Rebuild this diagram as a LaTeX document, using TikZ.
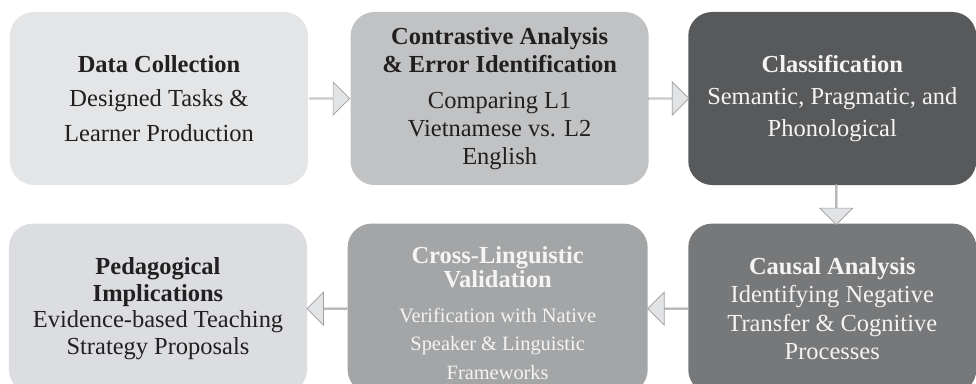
\documentclass[tikz,border=0pt]{standalone}
\usepackage{fontspec}
\setmainfont{Liberation Serif}
\usepackage{tikz}
\usetikzlibrary{shapes.arrows, positioning}

\definecolor{lightgrey}{HTML}{E4E5E7}
\definecolor{midgrey}{HTML}{C1C2C4}
\definecolor{darkgrey}{HTML}{58595B}
\definecolor{slategrey}{HTML}{77787A}
\definecolor{ashgrey}{HTML}{A3A5A7}
\definecolor{palegrey}{HTML}{DCDDE0}
\definecolor{arrowfill}{HTML}{E2E3E5}
\definecolor{arrowline}{HTML}{9C9D9F}
\definecolor{inktext}{HTML}{231F20}
\definecolor{lighttext}{HTML}{F4F4F4}

\begin{document}
\begin{tikzpicture}[x=0.025cm, y=-0.025cm,
        every node/.style={text=inktext},
        stage/.style={rectangle, rounded corners=0.6cm, minimum width=7.45cm, minimum height=4.325cm, align=center, inner sep=0pt, fill=#1},
        flow/.style={single arrow, draw=arrowline, fill=arrowfill, line width=0.5pt, minimum height=1cm, minimum width=0.825cm, single arrow head extend=0.225cm, single arrow head indent=0pt, inner sep=0pt, shape border rotate=#1}
    ]
%
    \useasboundingbox (0,0) rectangle (976,383);
    \clip (0,0) rectangle (976,383);
%
    \node[stage=lightgrey, font=\fontsize{17.4}{24.5}\selectfont] (collect) at (159,98.5) {\textbf{Data Collection}\\Designed Tasks \&\\Learner Production};
    \node[stage=midgrey, font=\fontsize{17.4}{20}\selectfont, right=1.05cm of collect] (contrast) {\textbf{Contrastive Analysis}\\\textbf{\& Error Identification}\\[5.7pt]Comparing L1\\Vietnamese vs. L2\\English};
    \node[stage=darkgrey, minimum width=7.2cm, text=lighttext, font=\fontsize{17.4}{22.5}\selectfont, right=0.975cm of contrast] (classify) {\textbf{Classification}\\Semantic, Pragmatic, and\\Phonological};
%
    \node[stage=slategrey, minimum width=7.2cm, minimum height=4.25cm, text=lighttext, font=\fontsize{17.4}{20.3}\selectfont, below=0.95cm of classify] (cause) {\textbf{Causal Analysis}\\Identifying Negative\\Transfer \& Cognitive\\Processes};
    \node[stage=ashgrey, minimum width=7.5cm, minimum height=4.25cm, text=lighttext, font=\fontsize{14.5}{20.3}\selectfont, left=1cm of cause] (validate) {\mbox{}\\[-2pt]\textbf{\fontsize{17.4}{15}\selectfont Cross-Linguistic}\\[-3.5pt]\textbf{\fontsize{17.4}{15}\selectfont Validation}\\[4.5pt]Verification with Native\\Speaker \& Linguistic\\Frameworks};
    \node[stage=palegrey, minimum height=4.25cm, font=\fontsize{17.4}{19}\selectfont, left=1cm of validate] (teach) {\textbf{Pedagogical}\\\textbf{Implications}\\Evidence-based Teaching\\Strategy Proposals};
%
    \path (collect.east) -- (contrast.west) node[flow=0, midway] {};
    \path (contrast.east) -- (classify.west) node[flow=0, midway] {};
    \path (classify.south) -- (cause.north) node[flow=270, midway, xshift=0.1cm] {};
    \path (cause.west) -- (validate.east) node[flow=180, midway] {};
    \path (validate.west) -- (teach.east) node[flow=180, midway] {};
%
\end{tikzpicture}
\end{document}
